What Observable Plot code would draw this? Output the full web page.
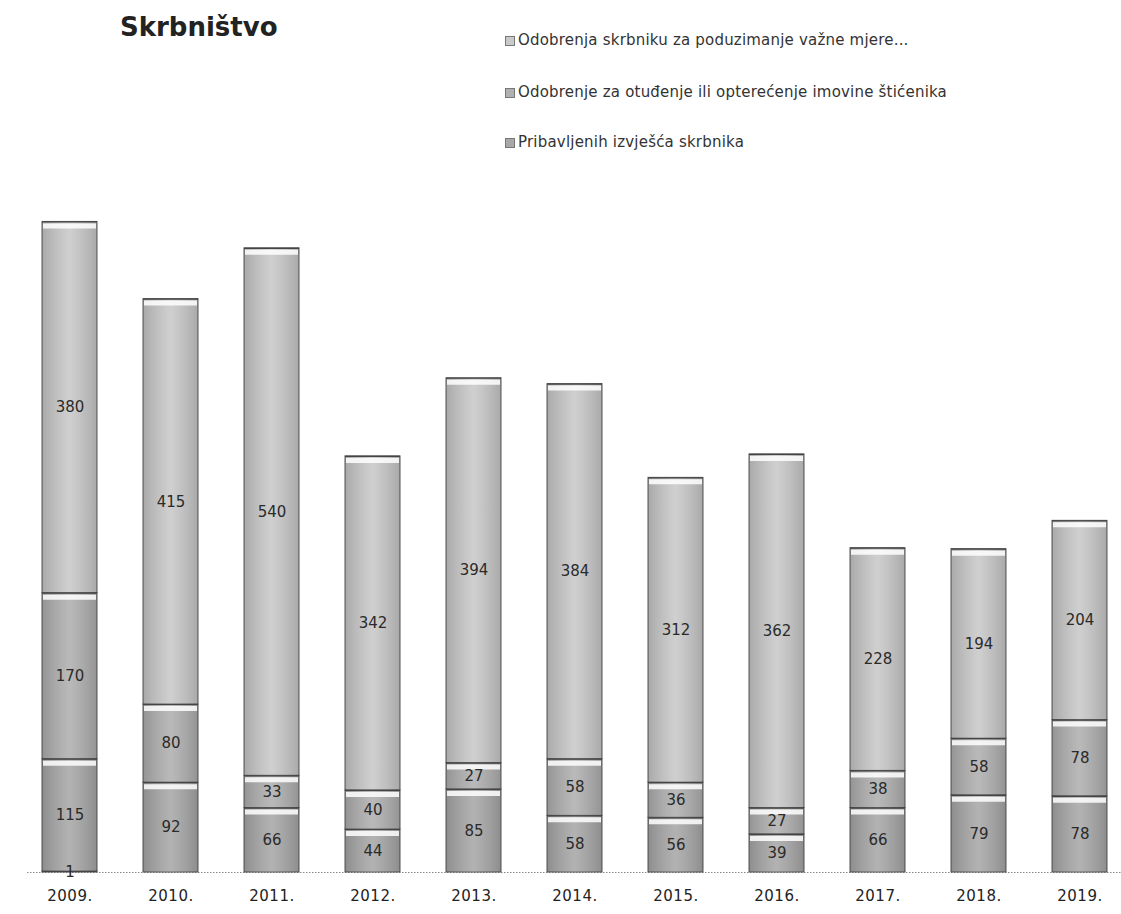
<!DOCTYPE html>
<html>
<head>
<meta charset="utf-8">
<script src="https://cdn.jsdelivr.net/npm/d3@7"></script>
<script src="https://cdn.jsdelivr.net/npm/@observablehq/plot@0.6"></script>
<style>
  body { margin: 0; background: #fff; font-family: "DejaVu Sans", Verdana, sans-serif; }
  #page { position: relative; width: 1121px; height: 914px; overflow: hidden; }
  #header { position: relative; height: 190px; }
  #title { position: absolute; left: 120px; top: 12px; font-size: 26px; font-weight: bold; color: #222; }
  .leg { position: absolute; left: 505px; font-size: 15px; color: #333; letter-spacing: 0.2px; white-space: nowrap; }
  .sw { display: inline-block; width: 10px; height: 10px; margin-right: 3px; vertical-align: -1px; border: 1px solid #777; box-sizing: border-box; }
</style>
</head>
<body>
<div id="page">
  <div id="header">
    <div id="title">Skrbništvo</div>
  </div>
  <div id="chart"></div>
</div>
<script>
const years = ["2009.", "2010.", "2011.", "2012.", "2013.", "2014.", "2015.", "2016.", "2017.", "2018.", "2019."];
const seriesNames = [
  "Odobrenja skrbniku za poduzimanje važne mjere...",
  "Odobrenje za otuđenje ili opterećenje imovine štićenika",
  "Pribavljenih izvješća skrbnika"
];
const extraName = "Ostalo";
// top segment
const vaznaMjera = [380, 415, 540, 342, 394, 384, 312, 362, 228, 194, 204];
// middle segment
const otudenje = [170, 80, 33, 40, 27, 58, 36, 27, 38, 58, 78];
// bottom segment
const izvjesca = [115, 92, 66, 44, 85, 58, 56, 39, 66, 79, 78];
// tiny unlabelled series (2009 only)
const ostalo = [1, 0, 0, 0, 0, 0, 0, 0, 0, 0, 0];

const colors = { [seriesNames[0]]: "#c9c9c9", [seriesNames[1]]: "#b0b0b0", [seriesNames[2]]: "#a8a8a8", [extraName]: "#a8a8a8" };
const stackOrder = [extraName, seriesNames[2], seriesNames[1], seriesNames[0]];

const data = [];
years.forEach((yr, i) => {
  data.push({ year: yr, series: extraName, value: ostalo[i] });
  data.push({ year: yr, series: seriesNames[2], value: izvjesca[i] });
  data.push({ year: yr, series: seriesNames[1], value: otudenje[i] });
  data.push({ year: yr, series: seriesNames[0], value: vaznaMjera[i] });
});

// legend
const header = document.getElementById("header");
const legTops = [31, 83, 133];
seriesNames.forEach((n, i) => {
  const d = document.createElement("div");
  d.className = "leg";
  d.style.top = legTops[i] + "px";
  d.innerHTML = `<span class="sw" style="background:${colors[n]}"></span>`;
  d.appendChild(document.createTextNode(n));
  header.appendChild(d);
});

const stackOpts = { x: "year", y: "value", z: "series", order: stackOrder };
const nonzero = data.filter(d => d.value > 0);

const chart = Plot.plot({
  width: 1121,
  height: 724,
  marginLeft: 27,
  marginRight: 0,
  marginTop: 8,
  marginBottom: 42,
  style: { fontFamily: "DejaVu Sans, Verdana, sans-serif", background: "white" },
  x: { domain: years, paddingInner: 0.46, paddingOuter: 0.1, label: null, tickSize: 0, tickPadding: 18 },
  y: { domain: [0, 690], axis: null },
  color: { domain: Object.keys(colors), range: Object.values(colors) },
  marks: [
    Plot.ruleY([0], { stroke: "#888", strokeDasharray: "1.5,1.5" }),
    Plot.barY(data, Plot.stackY({ ...stackOpts, fill: "series", stroke: "#555", strokeWidth: 1 })),
    Plot.barY(data, Plot.stackY({ ...stackOpts, fill: "url(#cyl)" })),
    Plot.tickY(nonzero, Plot.stackY2({ ...stackOpts, stroke: "white", strokeWidth: 5, dy: 4, insetLeft: 1, insetRight: 1, strokeOpacity: 0.85 })),
    Plot.tickY(nonzero, Plot.stackY2({ ...stackOpts, stroke: "#444", strokeWidth: 1.2 })),
    Plot.text(nonzero, Plot.stackY({ ...stackOpts, text: d => String(d.value), fill: "#2a2a2a", fontSize: 15 }))
  ]
});

// cylinder-like horizontal shading overlay
const svg = d3.select(chart);
const defs = svg.insert("defs", ":first-child");
const g = defs.append("linearGradient").attr("id", "cyl").attr("x1", "0").attr("x2", "1").attr("y1", "0").attr("y2", "0");
g.append("stop").attr("offset", "0%").attr("stop-color", "#000").attr("stop-opacity", 0.16);
g.append("stop").attr("offset", "50%").attr("stop-color", "#fff").attr("stop-opacity", 0.12);
g.append("stop").attr("offset", "100%").attr("stop-color", "#000").attr("stop-opacity", 0.16);
svg.selectAll("g[aria-label='x-axis tick label']").attr("font-size", 15).style("letter-spacing", "0.5px").attr("fill", "#222");
document.getElementById("chart").appendChild(chart);
</script>
</body>
</html>
